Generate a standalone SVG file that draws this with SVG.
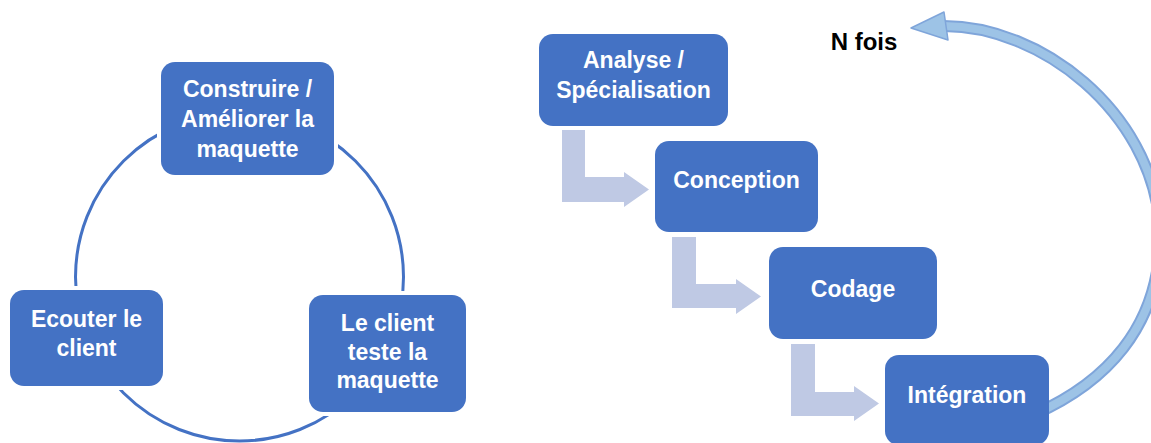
<svg xmlns="http://www.w3.org/2000/svg" width="1151" height="443" viewBox="0 0 1151 443">
<style>
  .box { fill: #4472C4; }
  .cyc { stroke: #FFFFFF; stroke-width: 8; paint-order: stroke; }
  .lbl { font-family: "Liberation Sans", Arial, sans-serif; font-weight: bold; font-size: 23px; fill: #FFFFFF; text-anchor: middle; }
  .step { fill: #BFC9E4; }
  .ring { fill: none; stroke: #4472C4; stroke-width: 3; }
</style>
<rect width="1151" height="443" fill="#FFFFFF"/>
<g id="connectors">
  <circle class="ring" cx="239.5" cy="277" r="164"/>
  <polygon class="step" points="562,130 585,130 585,177 624,177 624,172 649,189.5 624,207 624,202 562,202"/>
  <polygon class="step" points="672,237 696,237 696,284 736,284 736,279 761,296.5 736,314 736,308 672,308"/>
  <polygon class="step" points="791,344 815,344 815,392 854,392 854,386 879,403.5 854,421 854,416 791,416"/>
  <g id="loop-arrow">
    <path d="M1035 414 C1100 385, 1164 330, 1160 225 C1150 110, 1040 26, 944 26" fill="none" stroke="#7FA5DA" stroke-width="12"/>
    <path d="M1035 414 C1100 385, 1164 330, 1160 225 C1150 110, 1040 26, 944 26" fill="none" stroke="#9DC3E6" stroke-width="8"/>
    <polygon points="911,28 944,12 948,40" fill="#9DC3E6" stroke="#7FA5DA" stroke-width="1.5" stroke-linejoin="round"/>
  </g>
</g>
<g id="node-construire">
  <rect class="box cyc" x="161" y="62" width="173" height="113" rx="14"/>
  <text class="lbl" x="247.5" y="97">Construire /</text>
  <text class="lbl" x="247.5" y="127">Améliorer la</text>
  <text class="lbl" x="247.5" y="157">maquette</text>
</g>
<g id="node-ecouter">
  <rect class="box cyc" x="10" y="290" width="153" height="96" rx="14"/>
  <text class="lbl" x="86.5" y="327">Ecouter le</text>
  <text class="lbl" x="86.5" y="356">client</text>
</g>
<g id="node-teste">
  <rect class="box cyc" x="309" y="295" width="157" height="117" rx="14"/>
  <text class="lbl" x="387.5" y="331">Le client</text>
  <text class="lbl" x="387.5" y="360">teste la</text>
  <text class="lbl" x="387.5" y="388">maquette</text>
</g>
<g id="node-analyse">
  <rect class="box" x="539" y="34" width="189" height="92" rx="14"/>
  <text class="lbl" x="633.5" y="68">Analyse /</text>
  <text class="lbl" x="633.5" y="98">Spécialisation</text>
</g>
<g id="node-conception">
  <rect class="box" x="655" y="141" width="163" height="91" rx="14"/>
  <text class="lbl" x="736.5" y="188">Conception</text>
</g>
<g id="node-codage">
  <rect class="box" x="769" y="247" width="168" height="92" rx="14"/>
  <text class="lbl" x="853" y="297">Codage</text>
</g>
<g id="node-integration">
  <rect class="box" x="885" y="355" width="164" height="90" rx="14"/>
  <text class="lbl" x="967" y="403">Intégration</text>
</g>
<g id="label-nfois">
  <text x="864" y="50" font-family="Liberation Sans, Arial, sans-serif" font-weight="bold" font-size="24" fill="#000000" text-anchor="middle">N fois</text>
</g>
</svg>
